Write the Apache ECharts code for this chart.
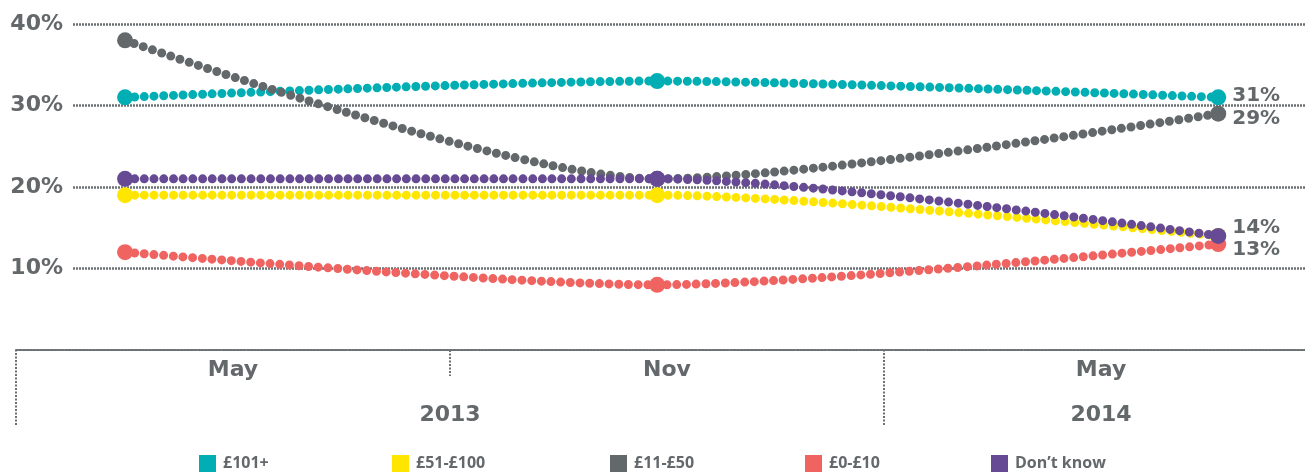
<!DOCTYPE html>
<html><head><meta charset="utf-8">
<script src="https://cdn.jsdelivr.net/npm/echarts@6/dist/echarts.min.js"></script>
<style>html,body{margin:0;padding:0;background:#fff}#c{width:1305px;height:474px}</style>
</head><body><div id="c"></div>
<script>
// ---- data ----
const waveDates = ['2013-05-10', '2013-11-10', '2014-05-23'];
const seriesNames = ['£101+', '£51-£100', '£11-£50', '£0-£10', 'Don’t know'];
const valuesOver100 = [31, 33, 31];
const values51to100 = [19, 19, 14];
const values11to50 = [38, 21, 29];
const values0to10 = [12, 8, 13];
const valuesDontKnow = [21, 21, 14];
const monthLabels = ['May', 'Nov', 'May'];
const yearLabels = ['2013', '2014'];
const monthsPerYear = [2, 1];

// ---- style ----
const TXT = '#63686b';
const FONT = '"Open Sans", "DejaVu Sans", sans-serif';
const BIGFONT = '"DejaVu Sans", sans-serif';
const colors = ['#00aeb3', '#ffe600', '#63686b', '#ef6461', '#664a94'];
const allValues = [valuesOver100, values51to100, values11to50, values0to10, valuesDontKnow];
const showEnd = [true, false, true, true, true];
const endOffsets = [[0, -2], [0, 0], [0, 5], [0, 6], [0, -8]];
const legendLefts = [199, 392, 610, 805, 991];
const dotted = { color: '#6b7073', width: 2.5, type: [2, 1] };
const frameLine = { color: '#6b7073', width: 2, type: [2, 1.5] };

// band positions derived from months per year
const yearStart = [];
const yearCenter = [];
let acc = 0;
monthsPerYear.forEach(n => { yearStart.push(acc); yearCenter.push(acc + n / 2); acc += n; });
const monthCenters = monthLabels.map((m, i) => i + 0.5);
const innerMonthTicks = [];
for (let i = 1; i < monthLabels.length; i++) if (yearStart.indexOf(i) < 0) innerMonthTicks.push(i);

const series = seriesNames.map((name, i) => ({
  name, type: 'line', xAxisIndex: 0, yAxisIndex: 0,
  data: allValues[i].map((v, k) => [waveDates[k], v]),
  smooth: 0.27, smoothMonotone: 'x',
  symbol: 'circle', symbolSize: 16, showAllSymbol: true,
  itemStyle: { color: colors[i] },
  lineStyle: { color: colors[i], width: 9, type: [0, 9.7], cap: 'round' },
  endLabel: {
    show: showEnd[i], distance: 14, offset: endOffsets[i],
    formatter: p => p.value[1] + '%',
    color: TXT, fontFamily: BIGFONT, fontWeight: 'bold', fontSize: 20
  },
  emphasis: { disabled: true },
  z: 2 + i
}));

const legends = seriesNames.map((name, i) => ({
  data: [name], left: legendLefts[i], top: 455, padding: 0,
  icon: 'rect', itemWidth: 17, itemHeight: 17,
  selectedMode: false,
  textStyle: { color: TXT, fontFamily: FONT, fontWeight: 'bold', fontSize: 16, padding: [0, 0, 0, 2] }
}));

const chart = echarts.init(document.getElementById('c'), null, { renderer: 'canvas' });
chart.setOption({
  animation: false,
  backgroundColor: '#fff',
  grid: [
    { left: 73, right: 0, top: 24, bottom: 124 },
    { left: 16, right: 0, top: 350, height: 75 }
  ],
  xAxis: [
    { type: 'time', gridIndex: 0, min: '2013-04-22', max: '2014-06-22', show: false },
    {
      type: 'value', gridIndex: 1, min: 0, max: 2.97, position: 'top',
      axisLine: { show: true, onZero: false, lineStyle: frameLine },
      axisTick: { show: true, inside: true, length: 26, customValues: innerMonthTicks, lineStyle: frameLine },
      axisLabel: {
        inside: true, margin: 20, verticalAlign: 'middle', customValues: monthCenters,
        formatter: v => monthLabels[Math.floor(v)],
        color: TXT, fontFamily: BIGFONT, fontWeight: 'bold', fontSize: 22
      },
      splitLine: { show: false }
    },
    {
      type: 'value', gridIndex: 1, min: 0, max: 2.97, position: 'bottom',
      axisLine: { show: false, onZero: false },
      axisTick: { show: true, inside: true, length: 75, customValues: yearStart, lineStyle: frameLine },
      axisLabel: {
        inside: true, margin: 10, verticalAlign: 'middle', customValues: yearCenter,
        formatter: v => yearLabels[yearCenter.indexOf(v)],
        color: TXT, fontFamily: BIGFONT, fontWeight: 'bold', fontSize: 22
      },
      splitLine: { show: false }
    }
  ],
  yAxis: [
    {
      type: 'value', gridIndex: 0, min: 0, max: 40, interval: 10,
      axisLine: { show: false }, axisTick: { show: false },
      axisLabel: { formatter: '{value}%', showMinLabel: false, margin: 10,
        color: TXT, fontFamily: BIGFONT, fontWeight: 'bold', fontSize: 22 },
      splitLine: { show: true, showMinLine: false, lineStyle: dotted }
    },
    { type: 'value', gridIndex: 1, min: 0, max: 1, show: false }
  ],
  legend: legends,
  series
});
</script></body></html>
